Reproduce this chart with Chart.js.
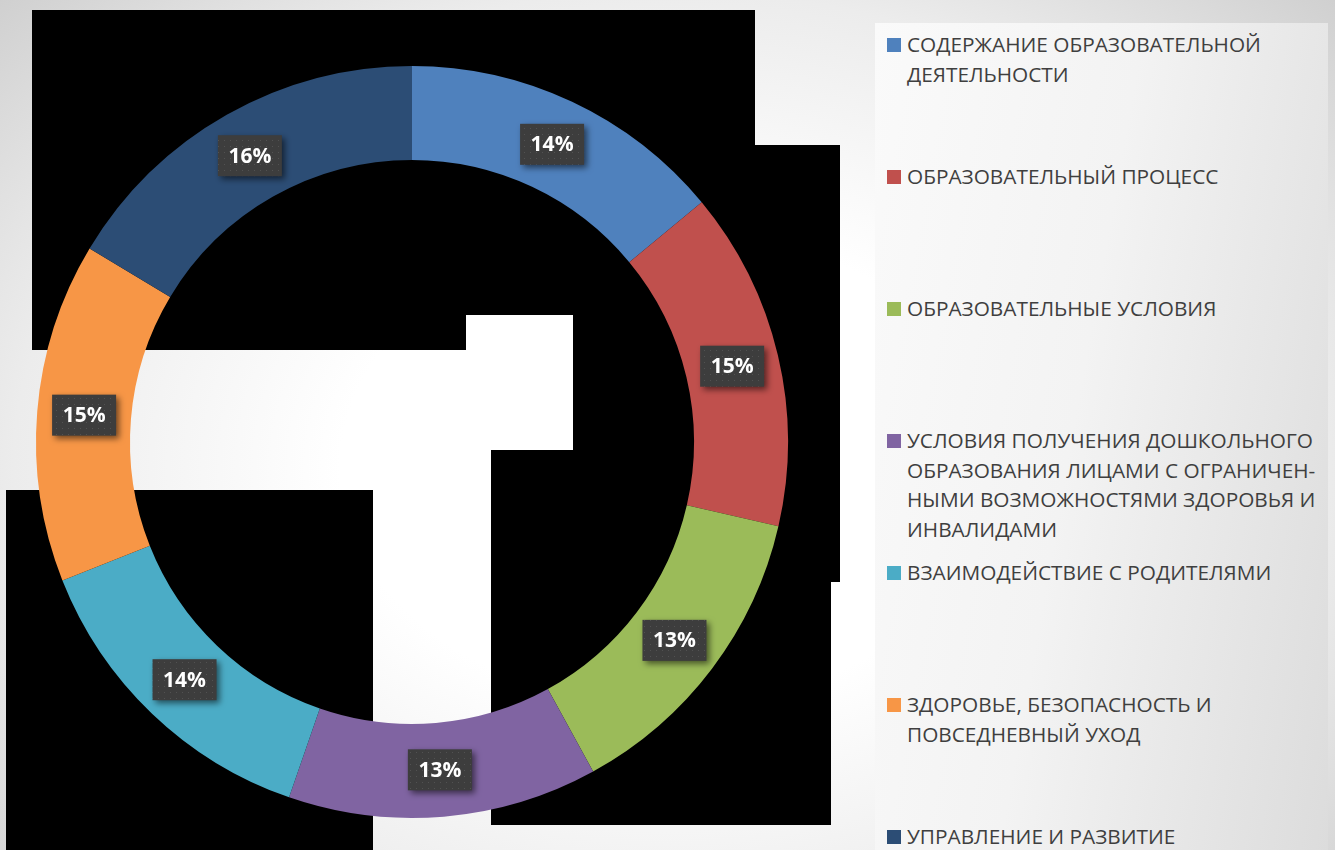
<!DOCTYPE html>
<html lang="ru">
<head>
<meta charset="UTF-8">
<script src="https://cdn.jsdelivr.net/npm/chart.js"></script>
<style>
  html, body { margin: 0; padding: 0; }
  body {
    width: 1335px; height: 850px; position: relative; overflow: hidden;
    background: radial-gradient(ellipse 70% 80% at 50% 55%, #ffffff 35%, #ececec 70%, #cfcfcf 100%);
    font-family: "Open Sans", "Noto Sans", sans-serif;
  }
  .blk { position: absolute; background: #000; }
  .wht { position: absolute; background: #fff; }
  #legendPanel {
    position: absolute; left: 875px; top: 23px; width: 453px; height: 827px;
    background: linear-gradient(100deg, #fafafa 0%, #f3f3f3 45%, #dcdcdc 100%);
  }
  .lg-item { position: absolute; left: 887px; color: #3f3f3f; font-size: 20.8px; line-height: 29.5px; white-space: nowrap; }
  .lg-box { position: absolute; left: 0; top: 8px; width: 14px; height: 14px; }
  .lg-text { margin-left: 20px; }
  #wrap { position: absolute; left: 0; top: 0; width: 824px; height: 850px; }
</style>
</head>
<body>
  <!-- odd black/white blocks that sit behind the ring in the source picture -->
  <div class="blk" style="left:32px;top:10px;width:723px;height:135px"></div>
  <div class="blk" style="left:32px;top:145px;width:434px;height:205px"></div>
  <div class="blk" style="left:466px;top:145px;width:374px;height:170px"></div>
  <div class="blk" style="left:573px;top:315px;width:267px;height:267px"></div>
  <div class="blk" style="left:491px;top:450px;width:340px;height:375px"></div>
  <div class="blk" style="left:6px;top:490px;width:367px;height:360px"></div>
  <div class="wht" style="left:466px;top:315px;width:107px;height:135px"></div>

  <div id="legendPanel"></div>
  <div id="legend"></div>

  <div id="wrap"><canvas id="myChart"></canvas></div>

<script>
  var categories = [
    ['СОДЕРЖАНИЕ ОБРАЗОВАТЕЛЬНОЙ', 'ДЕЯТЕЛЬНОСТИ'],
    ['ОБРАЗОВАТЕЛЬНЫЙ ПРОЦЕСС'],
    ['ОБРАЗОВАТЕЛЬНЫЕ УСЛОВИЯ'],
    ['УСЛОВИЯ ПОЛУЧЕНИЯ ДОШКОЛЬНОГО', 'ОБРАЗОВАНИЯ ЛИЦАМИ С ОГРАНИЧЕН-', 'НЫМИ ВОЗМОЖНОСТЯМИ ЗДОРОВЬЯ И', 'ИНВАЛИДАМИ'],
    ['ВЗАИМОДЕЙСТВИЕ С РОДИТЕЛЯМИ'],
    ['ЗДОРОВЬЕ, БЕЗОПАСНОСТЬ И', 'ПОВСЕДНЕВНЫЙ УХОД'],
    ['УПРАВЛЕНИЕ И РАЗВИТИЕ']
  ];
  // shares (labels show them rounded)
  var values = [14.0, 14.6, 13.4, 13.3, 13.7, 14.6, 16.4];
  var colors = ['#4f81bd', '#c0504d', '#9bbb59', '#8064a2', '#4bacc6', '#f79646', '#2c4d75'];

  // legend (html, because the labels wrap over several lines)
  var legend = document.getElementById('legend');
  categories.forEach(function (lines, i) {
    var item = document.createElement('div');
    item.className = 'lg-item';
    item.style.top = (30 + i * 132) + 'px';
    var box = document.createElement('div');
    box.className = 'lg-box';
    box.style.background = colors[i];
    var txt = document.createElement('div');
    txt.className = 'lg-text';
    txt.innerHTML = lines.join('<br>');
    item.appendChild(box);
    item.appendChild(txt);
    legend.appendChild(item);
  });

  // dotted dark fill for the data label boxes
  var pat = document.createElement('canvas');
  pat.width = 6; pat.height = 6;
  var pc = pat.getContext('2d');
  pc.fillStyle = '#3d3d3d';
  pc.fillRect(0, 0, 6, 6);
  pc.fillStyle = '#525252';
  pc.fillRect(2, 2, 1, 1);

  var labelBoxes = {
    id: 'labelBoxes',
    afterDatasetsDraw: function (chart) {
      var ctx = chart.ctx;
      var meta = chart.getDatasetMeta(0);
      var total = values.reduce(function (a, b) { return a + b; }, 0);
      ctx.save();
      ctx.font = 'bold 21px "Open Sans", sans-serif';
      ctx.textAlign = 'center';
      ctx.textBaseline = 'middle';
      meta.data.forEach(function (arc, i) {
        var p = arc.getCenterPoint();
        var txt = Math.round(values[i] / total * 100) + '%';
        var w = 64, h = 41;
        ctx.save();
        ctx.shadowColor = 'rgba(0,0,0,0.55)';
        ctx.shadowBlur = 6;
        ctx.shadowOffsetX = 3;
        ctx.shadowOffsetY = 3;
        ctx.fillStyle = ctx.createPattern(pat, 'repeat');
        ctx.fillRect(p.x - w / 2, p.y - h / 2, w, h);
        ctx.restore();
        ctx.fillStyle = '#ffffff';
        ctx.fillText(txt, p.x, p.y + 1);
      });
      ctx.restore();
    }
  };

  var ctx = document.getElementById('myChart').getContext('2d');
  var myChart = new Chart(ctx, {
    type: 'doughnut',
    data: {
      labels: categories,
      datasets: [{
        data: values,
        backgroundColor: colors,
        borderWidth: 0
      }]
    },
    options: {
      responsive: true,
      maintainAspectRatio: false,
      animation: false,
      cutout: '75%',
      layout: { padding: { left: 36, right: 36, top: 66, bottom: 32 } },
      events: [],
      plugins: {
        legend: { display: false },
        tooltip: { enabled: false }
      }
    },
    plugins: [labelBoxes]
  });
</script>
</body>
</html>
